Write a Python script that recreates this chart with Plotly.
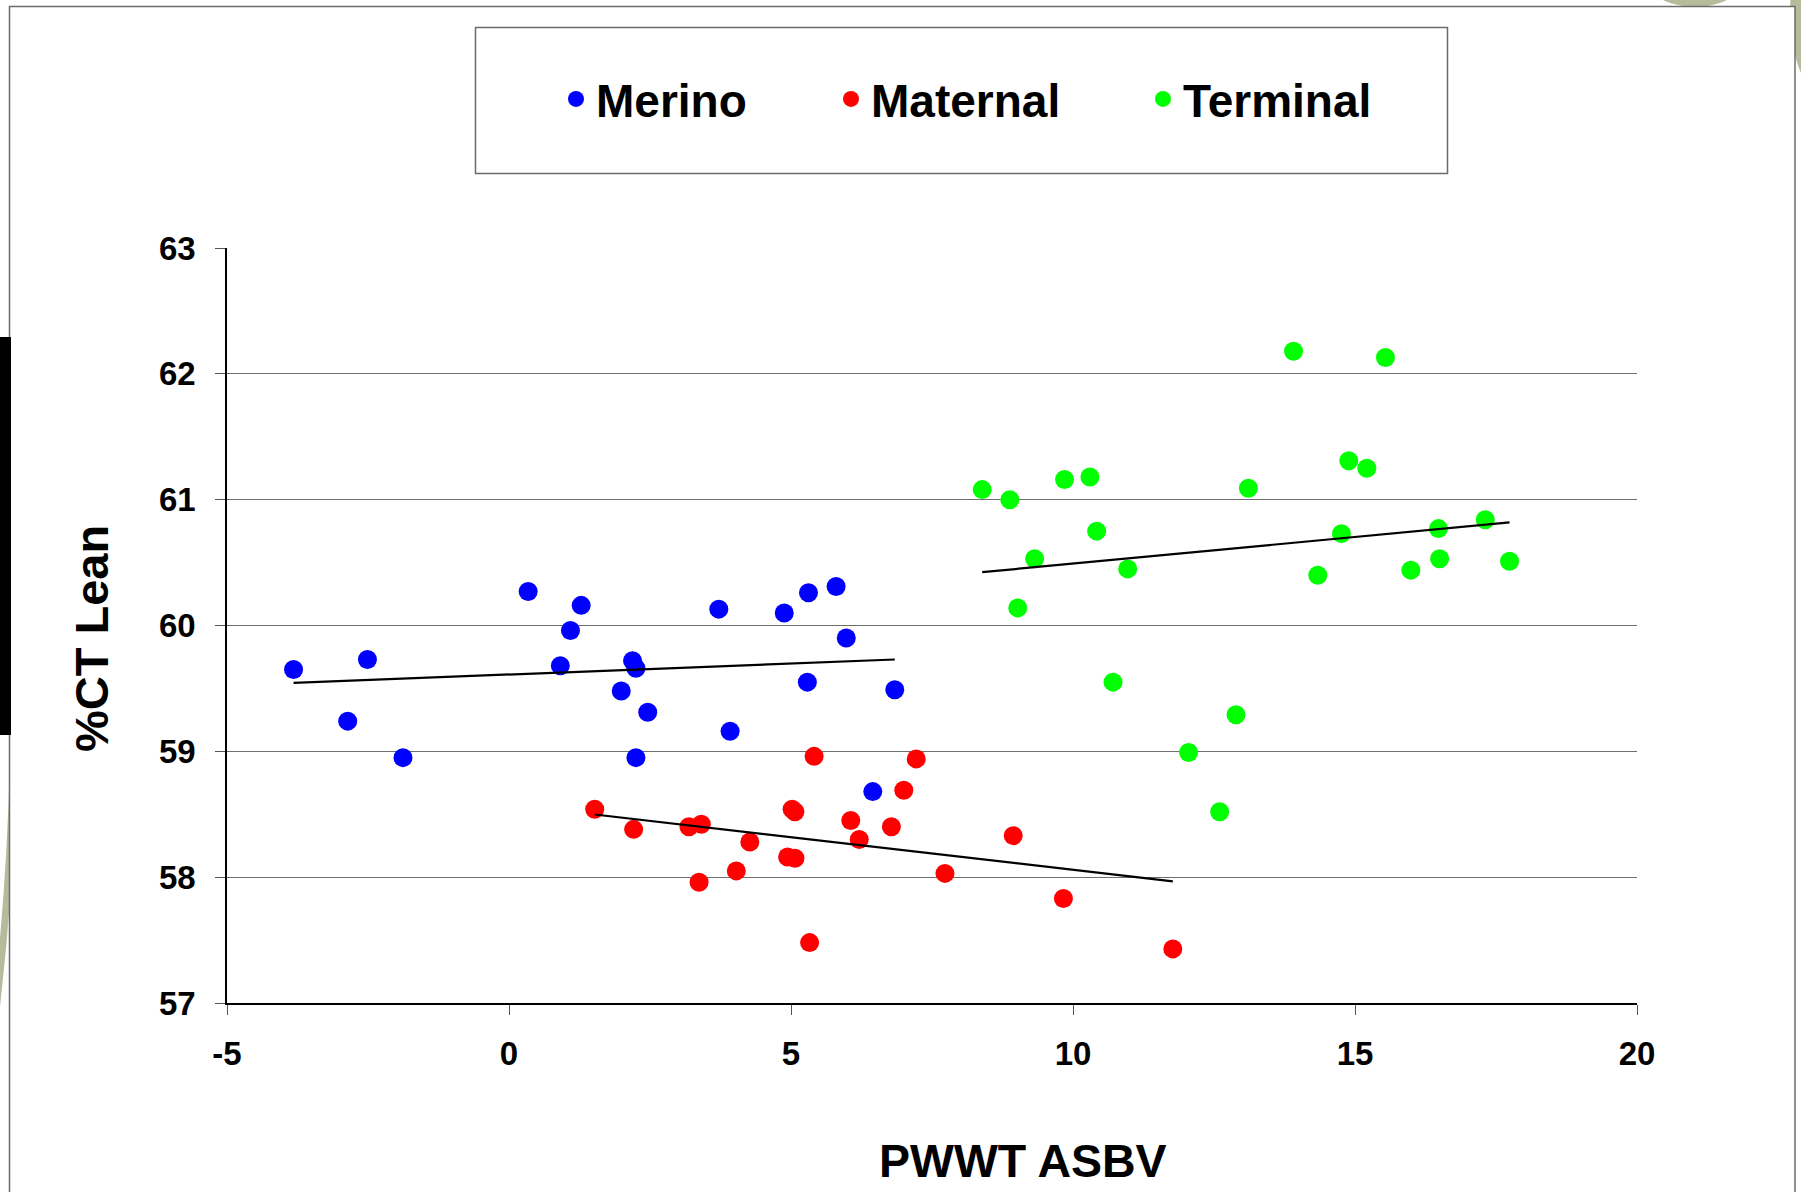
import numpy as np
import plotly.graph_objects as go

# PWWT ASBV (x) vs %CT Lean (y) for each sire type
merino_x = [-3.82, -2.86, -2.51, -1.88, 0.34, 0.91, 1.09, 1.28, 1.99, 2.19, 2.25,
            2.25, 2.46, 3.72, 3.92, 4.88, 5.31, 5.29, 5.80, 5.98, 6.45, 6.84]
merino_y = [59.65, 59.24, 59.73, 58.95, 60.27, 59.68, 59.96, 60.16, 59.48, 59.72, 59.66,
            58.95, 59.31, 60.13, 59.16, 60.10, 60.26, 59.55, 60.31, 59.90, 58.68, 59.49]

maternal_x = [1.52, 2.21, 3.19, 3.41, 3.37, 4.03, 4.27, 5.02, 5.07, 4.94, 5.07,
              5.33, 5.41, 6.06, 6.21, 6.78, 7.00, 7.22, 7.73, 8.94, 9.83, 11.77]
maternal_y = [58.54, 58.38, 58.40, 58.42, 57.96, 58.05, 58.28, 58.54, 58.52, 58.16, 58.15,
              57.48, 58.96, 58.45, 58.30, 58.40, 58.69, 58.94, 58.03, 58.33, 57.83, 57.43]

terminal_x = [8.39, 8.88, 9.02, 9.32, 9.85, 10.30, 10.42, 10.71, 10.97, 12.05, 12.60, 12.89,
              13.11, 13.91, 14.34, 14.76, 14.89, 15.21, 15.54, 15.99, 16.48, 16.50, 17.31, 17.74]
terminal_y = [61.08, 61.00, 60.14, 60.53, 61.16, 61.18, 60.75, 59.55, 60.45, 58.99, 58.52, 59.29,
              61.09, 62.18, 60.40, 60.73, 61.31, 61.25, 62.13, 60.44, 60.77, 60.53, 60.84, 60.51]

groups = ["Merino", "Maternal", "Terminal"]
colors = ["#0000FF", "#FF0000", "#00FF00"]
x_ticks = [-5, 0, 5, 10, 15, 20]
y_ticks = [57, 58, 59, 60, 61, 62, 63]

FONT = "Liberation Sans, Arial, sans-serif"
W, H = 1801, 1192
L, R, T, B = 227, 164, 248, 189  # plot-area margins in pixels
PW, PH = W - L - R, H - T - B


def px(xp):
    return (xp - L) / PW


def py(yp):
    return (H - B - yp) / PH


fig = go.Figure()

series = [(merino_x, merino_y), (maternal_x, maternal_y), (terminal_x, terminal_y)]
legend_ids = ["legend", "legend2", "legend3"]

for (xs, ys), name, col, lg in zip(series, groups, colors, legend_ids):
    fig.add_trace(go.Scatter(
        x=xs, y=ys, mode="markers", name=name, legend=lg,
        marker=dict(color=col, size=19, line=dict(width=0)),
    ))

# least-squares trend line for each group, spanning its x range
for xs, ys in series:
    xa, ya = np.array(xs), np.array(ys)
    k, c = np.polyfit(xa, ya, 1)
    xe = np.array([xa.min(), xa.max()])
    fig.add_trace(go.Scatter(
        x=xe, y=k * xe + c, mode="lines", showlegend=False, hoverinfo="skip",
        line=dict(color="black", width=2.2),
    ))

legend_common = dict(
    orientation="h", yanchor="middle", xanchor="left", y=py(99),
    font=dict(family=FONT, size=46, color="black", weight="bold"),
    bgcolor="rgba(0,0,0,0)", borderwidth=0, itemsizing="trace",
)

OLIVE = "#b7bb9b"
shapes = [
    # slide decoration behind the chart frame
    dict(type="circle", xref="paper", yref="paper",
         x0=px(14 - 2 * 2700), x1=px(14), y0=py(700 + 2700), y1=py(700 - 2700),
         line=dict(color=OLIVE, width=7), layer="below"),
    dict(type="circle", xref="paper", yref="paper",
         x0=px(1625), x1=px(1765), y0=py(7), y1=py(-120),
         fillcolor=OLIVE, line=dict(width=0), layer="below"),
    dict(type="circle", xref="paper", yref="paper",
         x0=px(1790), x1=px(1880), y0=py(105), y1=py(-80),
         fillcolor=OLIVE, line=dict(width=0), layer="below"),
    # chart frame
    dict(type="rect", xref="paper", yref="paper",
         x0=px(9.5), x1=px(1795), y0=py(1230), y1=py(6.5),
         fillcolor="white", line=dict(color="#6b6b6b", width=1.5), layer="below"),
    # legend box
    dict(type="rect", xref="paper", yref="paper",
         x0=px(475.5), x1=px(1447.5), y0=py(173.5), y1=py(27.5),
         line=dict(color="#6b6b6b", width=1.5)),
    # dark bar at the left edge
    dict(type="rect", xref="paper", yref="paper",
         x0=px(0), x1=px(11), y0=py(735), y1=py(337),
         fillcolor="black", line=dict(width=0)),
]

annotations = [
    dict(text="PWWT ASBV", xref="paper", yref="paper", x=px(1023), y=py(1161),
         xanchor="center", yanchor="middle", showarrow=False,
         font=dict(family=FONT, size=46.5, color="black", weight="bold")),
    dict(text="%CT Lean", xref="paper", yref="paper", x=px(91), y=py(639),
         xanchor="center", yanchor="middle", showarrow=False, textangle=-90,
         font=dict(family=FONT, size=47, color="black", weight="bold")),
]

fig.update_layout(
    width=W, height=H,
    margin=dict(l=L, r=R, t=T, b=B, pad=0),
    paper_bgcolor="white", plot_bgcolor="rgba(0,0,0,0)",
    font=dict(family=FONT, color="black", weight="bold"),
    legend=dict(legend_common, x=px(556)),
    legend2=dict(legend_common, x=px(831)),
    legend3=dict(legend_common, x=px(1143)),
    shapes=shapes,
    annotations=annotations,
    xaxis=dict(
        range=[-5, 20], tickvals=x_ticks, ticktext=[str(v) for v in x_ticks],
        showgrid=False, zeroline=False,
        showline=True, linecolor="black", linewidth=1.5,
        ticks="outside", ticklen=10, tickwidth=1.2, tickcolor="#555",
        ticklabelstandoff=11,
        tickfont=dict(family=FONT, size=33, color="black", weight="bold"),
    ),
    yaxis=dict(
        range=[57, 63], tickvals=y_ticks, ticktext=[str(v) for v in y_ticks],
        showgrid=True, gridcolor="#6e6e6e", gridwidth=1.3, zeroline=False,
        showline=True, linecolor="black", linewidth=1.5,
        ticks="outside", ticklen=10, tickwidth=1.2, tickcolor="#555",
        ticklabelstandoff=13,
        tickfont=dict(family=FONT, size=33, color="black", weight="bold"),
    ),
)

fig.write_html("out.html")
